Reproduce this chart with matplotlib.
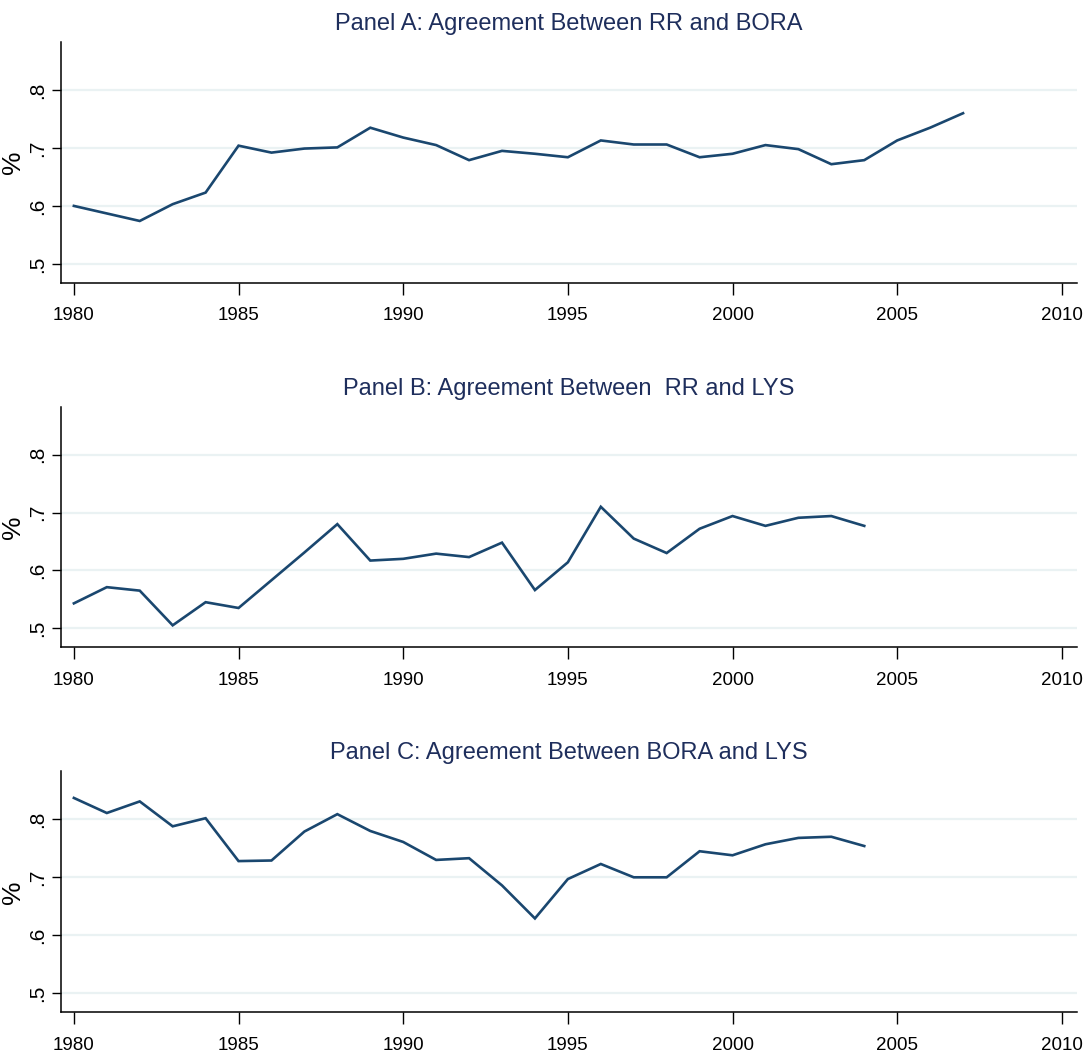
import matplotlib
matplotlib.use("Agg")
import matplotlib.pyplot as plt
from matplotlib import font_manager

years_a = list(range(1980, 2008))
rr_bora = [0.600, 0.587, 0.574, 0.603, 0.623, 0.704, 0.692, 0.699, 0.701, 0.735,
           0.718, 0.705, 0.679, 0.695, 0.690, 0.684, 0.713, 0.706, 0.706, 0.684,
           0.690, 0.705, 0.698, 0.672, 0.679, 0.713, 0.735, 0.760]

years_bc = list(range(1980, 2005))
rr_lys = [0.543, 0.571, 0.565, 0.505, 0.545, 0.535, 0.583, 0.631, 0.680, 0.617,
          0.620, 0.629, 0.623, 0.648, 0.566, 0.614, 0.710, 0.655, 0.630, 0.672,
          0.694, 0.677, 0.691, 0.694, 0.677]
bora_lys = [0.837, 0.811, 0.831, 0.788, 0.802, 0.728, 0.729, 0.779, 0.809, 0.780,
            0.761, 0.730, 0.733, 0.686, 0.629, 0.697, 0.723, 0.700, 0.700, 0.745,
            0.738, 0.757, 0.768, 0.770, 0.754]

titles = ["Panel A: Agreement Between RR and BORA",
          "Panel B: Agreement Between  RR and LYS",
          "Panel C: Agreement Between BORA and LYS"]

xticks = [1980, 1985, 1990, 1995, 2000, 2005, 2010]
yticks = [0.5, 0.6, 0.7, 0.8]
ytick_labels = [".5", ".6", ".7", ".8"]

LINE = "#1a476f"
TITLE = "#1e2e5c"
GRID = "#eaf2f3"


def pick_font(names):
    for name in names:
        try:
            font_manager.findfont(font_manager.FontProperties(family=name),
                                  fallback_to_default=False)
            return name
        except Exception:
            continue
    return "DejaVu Sans"


narrow = pick_font(["Liberation Sans Narrow", "Arial Narrow", "Liberation Sans"])
regular = pick_font(["Liberation Sans", "Arial"])
# the original is a Stata graph with narrow text; without a narrow face shrink a bit
has_narrow = narrow != regular
title_size = 20 if has_narrow else 17
xtick_size = 15 if has_narrow else 13.5

fig = plt.figure(figsize=(10.86, 10.57), dpi=100)

# axes boxes in figure fraction: left, bottom, width, height
boxes = [(0.0559, 0.7323, 0.9355, 0.2280),
         (0.0559, 0.3876, 0.9355, 0.2276),
         (0.0559, 0.0423, 0.9355, 0.2280)]
series = [(years_a, rr_bora), (years_bc, rr_lys), (years_bc, bora_lys)]

for box, (xs, ys), title in zip(boxes, series, titles):
    ax = fig.add_axes(box)
    ax.set_xlim(1979.6, 2010.45)
    ax.set_ylim(0.467, 0.883)
    for yv in yticks:
        ax.axhline(yv, color=GRID, lw=1.6, zorder=0)
    ax.plot(xs, ys, color=LINE, lw=1.9, solid_joinstyle="miter", zorder=2)

    for side in ("top", "right"):
        ax.spines[side].set_visible(False)
    for side in ("left", "bottom"):
        ax.spines[side].set_linewidth(1.1)
        ax.spines[side].set_color("black")

    ax.set_xticks(xticks)
    ax.set_xticklabels([str(x) for x in xticks], fontfamily=narrow, fontsize=xtick_size)
    ax.set_yticks(yticks)
    ax.set_yticklabels(ytick_labels, fontfamily=regular, fontsize=15,
                       rotation=90, va="center")
    ax.tick_params(axis="x", length=8.5, width=1, pad=9, colors="black")
    ax.tick_params(axis="y", length=6.5, width=1, pad=3, colors="black")
    ax.set_ylabel("%", fontfamily=regular, fontsize=19)
    ax.yaxis.set_label_coords(-0.035, 0.5)
    ax.annotate(title, xy=(0.5, 1.0), xycoords="axes fraction",
                xytext=(0, 8.6), textcoords="offset points",
                ha="center", va="baseline", fontfamily=narrow,
                fontsize=title_size, color=TITLE)

fig.savefig("out.png", dpi=100, facecolor="white")
